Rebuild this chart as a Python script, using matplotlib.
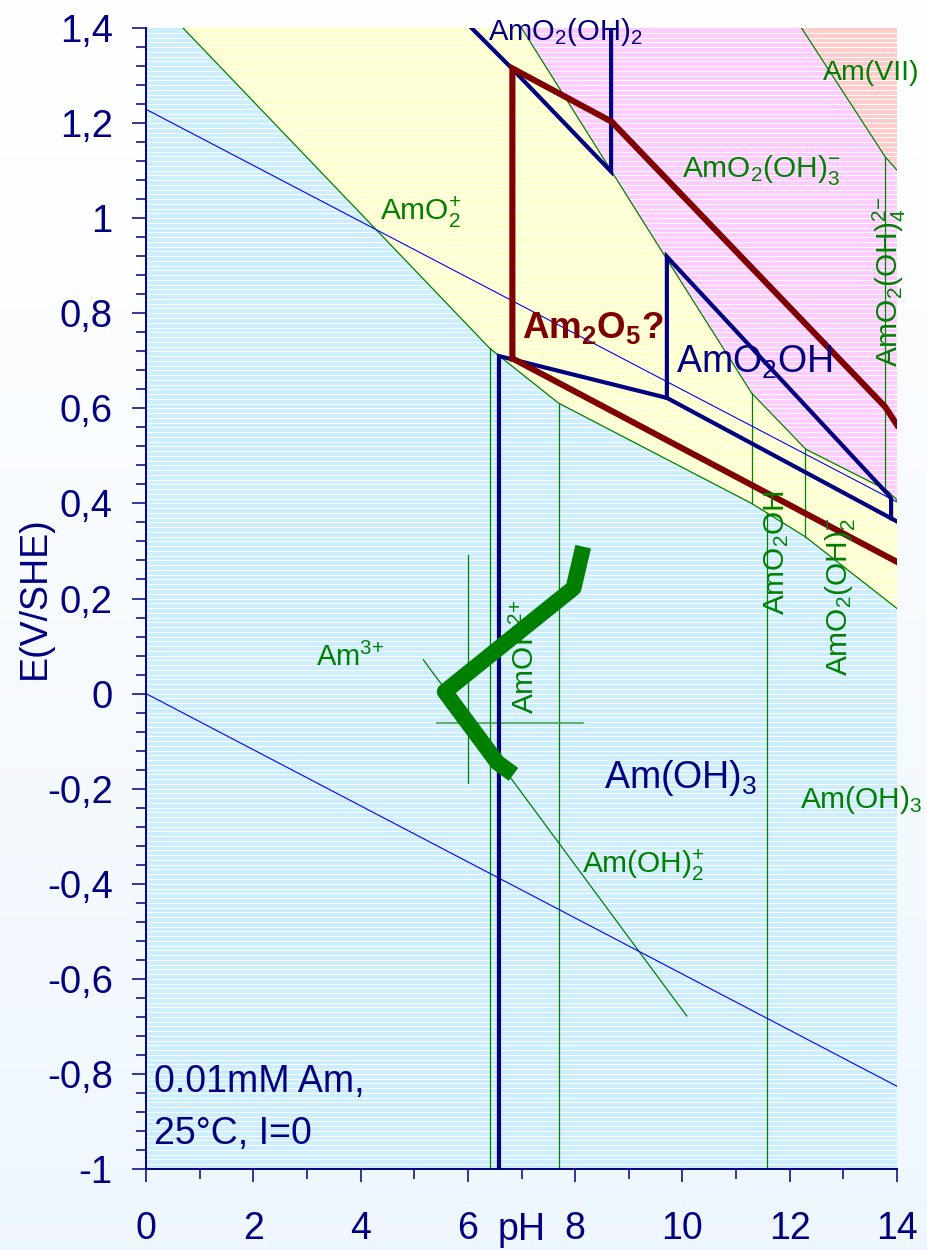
import numpy as np
import matplotlib.pyplot as plt

plt.rcParams['font.family'] = ['Liberation Sans', 'DejaVu Sans']
plt.rcParams['mathtext.fontset'] = 'custom'
plt.rcParams['mathtext.rm'] = 'Liberation Sans'
plt.rcParams['mathtext.it'] = 'Liberation Sans'
plt.rcParams['mathtext.bf'] = 'Liberation Sans:bold'
plt.rcParams['mathtext.default'] = 'rm'

NAVY = '#000080'
GREEN = '#008000'
DARKRED = '#800000'
WATER = '#0000ff'

PH_MIN, PH_MAX = 0.0, 14.0
E_MIN, E_MAX = -1.0, 1.4

# domain boundaries (pH, E / V vs SHE)
am3_am5_ph = [0.69, 6.41, 7.69, 11.29, 12.29, 14.0]
am3_am5_e = [1.40, 0.726, 0.611, 0.400, 0.330, 0.179]
am5_am6_ph = [7.00, 9.68, 11.29, 12.30, 13.81, 14.0]
am5_am6_e = [1.40, 0.919, 0.632, 0.514, 0.428, 0.407]
am6_am7_ph = [12.22, 13.78, 14.0]
am6_am7_e = [1.40, 1.129, 1.101]

# vertical hydrolysis boundaries
am3_split_ph = [6.41, 7.69, 11.58]
am5_split_ph = [11.29, 12.29]
am6_split_ph = [13.78]

# extra Am(III) lines
amoh2_ph = [5.17, 10.08]
amoh2_e = [0.071, -0.678]
cross_v_ph = [6.00, 6.00]
cross_v_e = [0.291, -0.188]
cross_h_ph = [5.42, 8.15]
cross_h_e = [-0.061, -0.061]

# water stability lines
water_ph = [0.0, 14.0]
o2_e = [1.229, 0.403]
h2_e = [0.0, -0.826]

# AmO2OH / Am2O5 lines
navy_low_ph = [6.58, 6.58, 9.71, 14.0]
navy_low_e = [-1.0, 0.710, 0.622, 0.362]
navy_step_ph = [9.71, 9.71, 13.84, 13.89, 13.89]
navy_step_e = [0.622, 0.919, 0.418, 0.410, 0.369]
navy_top_ph = [6.07, 6.82, 8.67, 8.67]
navy_top_e = [1.40, 1.315, 1.098, 1.40]
red_upper_ph = [6.83, 6.83, 8.68, 13.78, 14.0]
red_upper_e = [0.705, 1.315, 1.203, 0.603, 0.565]
red_lower_ph = [6.83, 14.0]
red_lower_e = [0.705, 0.277]

# measured path
path_ph = [8.15, 7.97, 5.57, 6.55, 6.85]
path_e = [0.309, 0.222, 0.004, -0.145, -0.170]

xticks_major = [0, 2, 4, 6, 8, 10, 12, 14]
xticks_minor = [1, 3, 5, 7, 9, 11, 13]
yticks_major = [-1.0, -0.8, -0.6, -0.4, -0.2, 0.0, 0.2, 0.4, 0.6, 0.8, 1.0, 1.2, 1.4]
yticks_labels = ['-1', '-0,8', '-0,6', '-0,4', '-0,2', '0', '0,2', '0,4', '0,6', '0,8', '1', '1,2', '1,4']

fig = plt.figure(figsize=(9.27, 12.5), dpi=100)

# soft page background
bg = fig.add_axes([0, 0, 1, 1], zorder=-10)
grad = np.linspace(0, 1, 256)[:, None, None]
top_c = np.array([1.0, 1.0, 1.0])
bot_c = np.array([0.937, 0.968, 0.996])
bg.imshow(top_c * (1 - grad) + bot_c * grad, aspect='auto', extent=[0, 1, 0, 1])
bg.axis('off')

ax = fig.add_axes([146 / 927, 1 - 1169 / 1250, 751 / 927, 1141 / 1250])
ax.set_facecolor('#cceeff')
ax.set_xlim(PH_MIN, PH_MAX)
ax.set_ylim(E_MIN, E_MAX)

# coloured domains
ax.fill(am3_am5_ph + [PH_MAX], am3_am5_e + [E_MAX], color='#ffffcc', lw=0, zorder=1)
ax.fill(am5_am6_ph + [PH_MAX], am5_am6_e + [E_MAX], color='#ffccff', lw=0, zorder=1)
ax.fill(am6_am7_ph + [PH_MAX], am6_am7_e + [E_MAX], color='#ffcccc', lw=0, zorder=1)

# white horizontal stripes
for e in np.arange(E_MIN, E_MAX, 0.01):
    ax.axhline(e, color='white', lw=0.7, zorder=2)

# thin boundaries
ax.plot(am3_am5_ph, am3_am5_e, color=GREEN, lw=0.9, zorder=3)
ax.plot(am5_am6_ph, am5_am6_e, color=GREEN, lw=0.9, zorder=3)
ax.plot(am6_am7_ph, am6_am7_e, color=GREEN, lw=0.9, zorder=3)
for p in am3_split_ph:
    ax.plot([p, p], [E_MIN, np.interp(p, am3_am5_ph, am3_am5_e)], color=GREEN, lw=0.9, zorder=3)
for p in am5_split_ph:
    ax.plot([p, p], [np.interp(p, am3_am5_ph, am3_am5_e), np.interp(p, am5_am6_ph, am5_am6_e)],
            color=GREEN, lw=0.9, zorder=3)
for p in am6_split_ph:
    ax.plot([p, p], [np.interp(p, am5_am6_ph, am5_am6_e), np.interp(p, am6_am7_ph, am6_am7_e)],
            color=GREEN, lw=0.9, zorder=3)
ax.plot(amoh2_ph, amoh2_e, color=GREEN, lw=0.9, zorder=3)
ax.plot(cross_v_ph, cross_v_e, color=GREEN, lw=0.9, zorder=3)
ax.plot(cross_h_ph, cross_h_e, color='#4aa04a', lw=1.2, zorder=3)

ax.plot(water_ph, o2_e, color=WATER, lw=0.8, zorder=3)
ax.plot(water_ph, h2_e, color=WATER, lw=0.8, zorder=3)

# AmO2OH (navy) and Am2O5 (dark red) lines
for xs, ys in [(navy_low_ph, navy_low_e), (navy_step_ph, navy_step_e), (navy_top_ph, navy_top_e)]:
    ax.plot(xs, ys, color=NAVY, lw=3.0, zorder=4, solid_joinstyle='miter')
ax.plot(red_upper_ph, red_upper_e, color=DARKRED, lw=4.4, zorder=5, solid_joinstyle='miter')
ax.plot(red_lower_ph, red_lower_e, color=DARKRED, lw=4.4, zorder=5)

# species labels
def label(x, y, s, c, size, **kw):
    ax.text(x, y, s, color=c, fontsize=size, zorder=6, clip_on=False, **kw)

label(6.38, 1.375, r'AmO$_2$(OH)$_2$', NAVY, 21)
label(12.62, 1.291, 'Am(VII)', GREEN, 20.5)
label(9.99, 1.087, r'AmO$_2$(OH)$_3^{{-}}$', GREEN, 21.5)
label(4.36, 0.996, r'AmO$_2^{{+}}$', GREEN, 21.5)
label(7.00, 0.747, r'$\mathbf{Am_2O_5?}$', DARKRED, 26.5)
label(9.88, 0.674, r'AmO$_2$OH', NAVY, 27)
label(3.16, 0.057, r'Am$^{3{+}}$', GREEN, 21)
label(8.53, -0.199, r'Am(OH)$_3$', NAVY, 27)
label(12.19, -0.241, r'Am(OH)$_3$', GREEN, 21.5)
label(8.12, -0.378, r'Am(OH)$_2^{{+}}$', GREEN, 21.5)
label(0.15, -0.837, '0.01mM Am,', NAVY, 27)
label(0.15, -0.948, '25°C, I=0', NAVY, 27)
label(13.85, 0.866, r'AmO$_2$(OH)$_4^{2{-}}$', GREEN, 21.5, rotation=90, ha='center', va='center')
label(11.75, 0.297, r'AmO$_2$OH', GREEN, 21.5, rotation=90, ha='center', va='center')
label(12.94, 0.205, r'AmO$_2$(OH)$_2^{{-}}$', GREEN, 21.5, rotation=90, ha='center', va='center')
label(7.07, 0.077, r'AmOH$^{2{+}}$', GREEN, 21.5, rotation=90, ha='center', va='center')

# measured trajectory on top
ax.plot(path_ph, path_e, color=GREEN, lw=11.5, zorder=7,
        solid_joinstyle='round', solid_capstyle='butt')

# axes styling
for side in ['top', 'right']:
    ax.spines[side].set_visible(False)
for side in ['left', 'bottom']:
    ax.spines[side].set_color(NAVY)
    ax.spines[side].set_linewidth(1.4)
    ax.spines[side].set_zorder(8)

ax.set_xticks(xticks_major)
ax.set_xticks(xticks_minor, minor=True)
ax.set_xticklabels([str(t) for t in xticks_major])
ax.set_yticks(yticks_major)
ax.set_yticks(np.arange(E_MIN, E_MAX + 0.001, 0.04), minor=True)
ax.set_yticklabels(yticks_labels)
ax.tick_params(axis='x', which='major', length=9.5, width=1.1, color=NAVY,
               labelcolor=NAVY, labelsize=27, pad=21)
ax.tick_params(axis='x', which='minor', length=7.2, width=1.1, color=NAVY)
ax.tick_params(axis='y', which='major', length=10, width=1.1, color=NAVY,
               labelcolor=NAVY, labelsize=27.5, pad=14)
ax.tick_params(axis='y', which='minor', length=7.2, width=1.1, color=NAVY)

fig.text(35 / 927, 1 - 598 / 1250, 'E(V/SHE)', color=NAVY, fontsize=27,
         rotation=90, ha='center', va='center')
fig.text(522 / 927, 1 - 1230 / 1250, 'pH', color=NAVY, fontsize=27,
         ha='center', va='center')

fig.savefig('out.png', dpi=100)
